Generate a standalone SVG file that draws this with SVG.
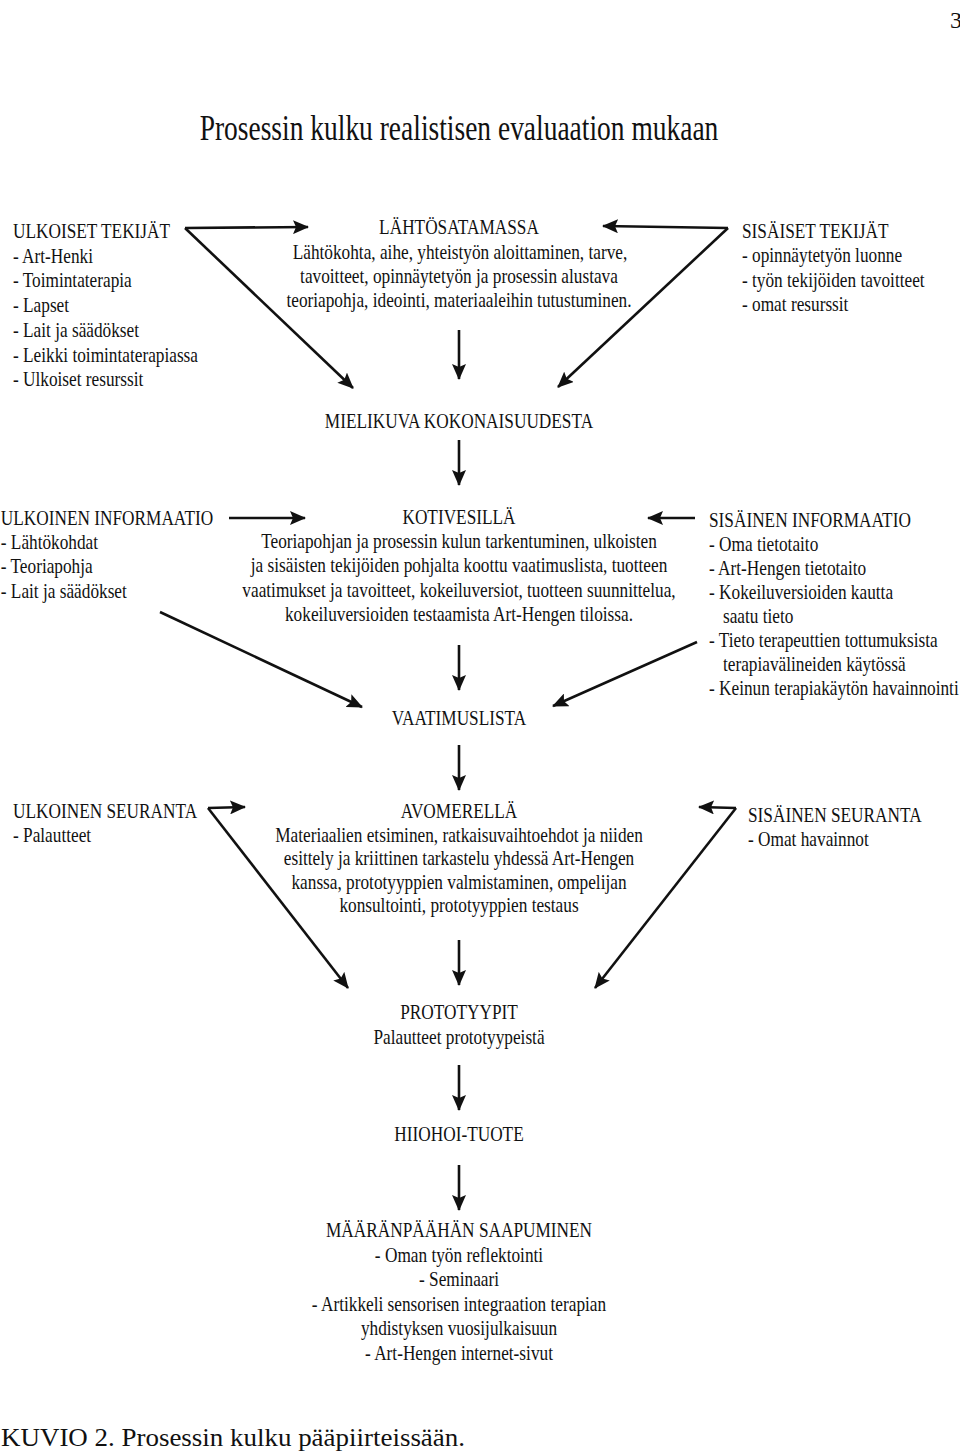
<svg xmlns="http://www.w3.org/2000/svg" width="960" height="1455" viewBox="0 0 960 1455">
<style>
text{font-family:"Liberation Serif","Times New Roman",serif;fill:#111;}
.t{font-size:22px;}
.c{font-size:22px;text-anchor:middle;}
.ti{font-size:35px;text-anchor:middle;}
.cap{font-size:25px;}
.conn line{stroke:#111;stroke-width:2.6;fill:none;marker-end:url(#ah);}
</style>
<defs>
<marker id="ah" markerUnits="userSpaceOnUse" markerWidth="16" markerHeight="14" refX="15" refY="7" orient="auto">
<path d="M0,0 L16,7 L0,14 L3,7 z" fill="#111"/>
</marker>
</defs>
<rect width="960" height="1455" fill="#fff"/>
<text x="950" y="28" style="font-size:24px">3</text>
<g id="title"><text class="ti" transform="scale(0.785 1)" x="584.71" y="140">Prosessin kulku realistisen evaluaation mukaan</text></g>

<g id="ulkoiset-tekijat" transform="scale(0.785 1)">
<text class="t" x="16.56" y="238">ULKOISET TEKIJÄT</text>
<text class="t" x="16.56" y="263">- Art-Henki</text>
<text class="t" x="16.56" y="287">- Toimintaterapia</text>
<text class="t" x="16.56" y="312">- Lapset</text>
<text class="t" x="16.56" y="337">- Lait ja säädökset</text>
<text class="t" x="16.56" y="362">- Leikki toimintaterapiassa</text>
<text class="t" x="16.56" y="386">- Ulkoiset resurssit</text>
</g>
<g id="lahtosatamassa" transform="scale(0.785 1)">
<text class="c" x="584.71" y="234">LÄHTÖSATAMASSA</text>
<text class="c" x="585.99" y="259">Lähtökohta, aihe, yhteistyön aloittaminen, tarve,</text>
<text class="c" x="584.71" y="283">tavoitteet, opinnäytetyön ja prosessin alustava</text>
<text class="c" x="584.71" y="307">teoriapohja, ideointi, materiaaleihin tutustuminen.</text>
</g>
<g id="sisaiset-tekijat" transform="scale(0.785 1)">
<text class="t" x="945.22" y="238">SISÄISET TEKIJÄT</text>
<text class="t" x="945.22" y="262">- opinnäytetyön luonne</text>
<text class="t" x="945.22" y="287">- työn tekijöiden tavoitteet</text>
<text class="t" x="945.22" y="311">- omat resurssit</text>
</g>
<g id="mielikuva" transform="scale(0.785 1)">
<text class="c" x="584.71" y="428">MIELIKUVA KOKONAISUUDESTA</text>
</g>

<g id="ulkoinen-informaatio" transform="scale(0.785 1)">
<text class="t" x="1" y="525">ULKOINEN INFORMAATIO</text>
<text class="t" x="1" y="549">- Lähtökohdat</text>
<text class="t" x="1" y="573">- Teoriapohja</text>
<text class="t" x="1" y="598">- Lait ja säädökset</text>
</g>
<g id="kotivesilla" transform="scale(0.785 1)">
<text class="c" x="584.71" y="524">KOTIVESILLÄ</text>
<text class="c" x="584.71" y="548">Teoriapohjan ja prosessin kulun tarkentuminen, ulkoisten</text>
<text class="c" x="584.71" y="572">ja sisäisten tekijöiden pohjalta koottu vaatimuslista, tuotteen</text>
<text class="c" x="584.71" y="597">vaatimukset ja tavoitteet, kokeiluversiot, tuotteen suunnittelua,</text>
<text class="c" x="584.71" y="621">kokeiluversioiden testaamista Art-Hengen tiloissa.</text>
</g>
<g id="sisainen-informaatio" transform="scale(0.785 1)">
<text class="t" x="903.18" y="527">SISÄINEN INFORMAATIO</text>
<text class="t" x="903.18" y="551">- Oma tietotaito</text>
<text class="t" x="903.18" y="575">- Art-Hengen tietotaito</text>
<text class="t" x="903.18" y="599">- Kokeiluversioiden kautta</text>
<text class="t" x="921.0" y="623">saatu tieto</text>
<text class="t" x="903.18" y="647">- Tieto terapeuttien tottumuksista</text>
<text class="t" x="921.0" y="671">terapiavälineiden käytössä</text>
<text class="t" x="903.18" y="695">- Keinun terapiakäytön havainnointi</text>
</g>
<g id="vaatimuslista" transform="scale(0.785 1)">
<text class="c" x="584.71" y="725">VAATIMUSLISTA</text>
</g>

<g id="ulkoinen-seuranta" transform="scale(0.785 1)">
<text class="t" x="16.56" y="818">ULKOINEN SEURANTA</text>
<text class="t" x="16.56" y="842">- Palautteet</text>
</g>
<g id="avomerella" transform="scale(0.785 1)">
<text class="c" x="584.71" y="818">AVOMERELLÄ</text>
<text class="c" x="584.71" y="842">Materiaalien etsiminen, ratkaisuvaihtoehdot ja niiden</text>
<text class="c" x="584.71" y="865">esittely ja kriittinen tarkastelu yhdessä Art-Hengen</text>
<text class="c" x="584.71" y="889">kanssa, prototyyppien valmistaminen, ompelijan</text>
<text class="c" x="584.71" y="912">konsultointi, prototyyppien testaus</text>
</g>
<g id="sisainen-seuranta" transform="scale(0.785 1)">
<text class="t" x="952.87" y="822">SISÄINEN SEURANTA</text>
<text class="t" x="952.87" y="846">- Omat havainnot</text>
</g>

<g id="prototyypit" transform="scale(0.785 1)">
<text class="c" x="584.71" y="1019">PROTOTYYPIT</text>
<text class="c" x="584.71" y="1044">Palautteet prototyypeistä</text>
</g>
<g id="hiiohoi-tuote" transform="scale(0.785 1)">
<text class="c" x="584.71" y="1141">HIIOHOI-TUOTE</text>
</g>
<g id="maaranpaahan" transform="scale(0.785 1)">
<text class="c" x="584.71" y="1237">MÄÄRÄNPÄÄHÄN SAAPUMINEN</text>
<text class="c" x="584.71" y="1262">- Oman työn reflektointi</text>
<text class="c" x="584.71" y="1286">- Seminaari</text>
<text class="c" x="584.71" y="1311">- Artikkeli sensorisen integraation terapian</text>
<text class="c" x="584.71" y="1335">yhdistyksen vuosijulkaisuun</text>
<text class="c" x="584.71" y="1360">- Art-Hengen internet-sivut</text>
</g>

<g id="connectors" class="conn">
<line x1="185" y1="228" x2="308" y2="227"/>
<line x1="185" y1="228" x2="353" y2="388"/>
<line x1="728" y1="228" x2="603" y2="226"/>
<line x1="728" y1="228" x2="558" y2="387"/>
<line x1="459" y1="330" x2="459" y2="379"/>
<line x1="459" y1="440" x2="459" y2="485"/>
<line x1="229" y1="518" x2="305" y2="518"/>
<line x1="160" y1="612" x2="362" y2="707"/>
<line x1="695" y1="518" x2="648" y2="518"/>
<line x1="697" y1="642" x2="553" y2="706"/>
<line x1="459" y1="645" x2="459" y2="690"/>
<line x1="459" y1="745" x2="459" y2="790"/>
<line x1="208" y1="808" x2="245" y2="807"/>
<line x1="208" y1="808" x2="348" y2="988"/>
<line x1="736" y1="808" x2="699" y2="807"/>
<line x1="736" y1="808" x2="595" y2="988"/>
<line x1="459" y1="940" x2="459" y2="985"/>
<line x1="459" y1="1065" x2="459" y2="1110"/>
<line x1="459" y1="1165" x2="459" y2="1210"/>
</g>

<g id="caption"><text class="cap" x="1" y="1446" textLength="464" lengthAdjust="spacingAndGlyphs">KUVIO 2. Prosessin kulku pääpiirteissään.</text></g>
</svg>
